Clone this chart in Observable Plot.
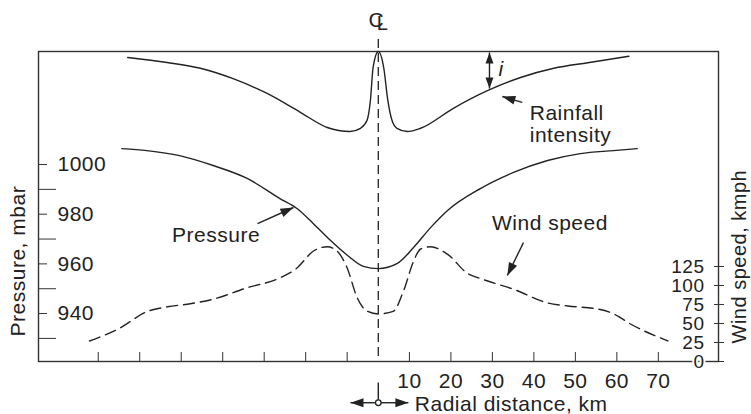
<!DOCTYPE html>
<html><head><meta charset="utf-8">
<script src="https://cdn.jsdelivr.net/npm/d3@7"></script>
<script src="https://cdn.jsdelivr.net/npm/@observablehq/plot@0.6"></script>
<style>body{margin:0;background:#fff}</style>
</head><body><div id="chart"></div>
<script>
// Radial position along the drawing, km (the storm centre line sits at 2.5 on this scale)
const centreKm = 2.5;

// Rainfall intensity (relative, 0–100, measured downward from the top line)
const rainKm = [-57.9, -48.4, -40.4, -32.5, -24.3, -16.3, -9.8, -4.3, -1.8, -0.2, 0.6, 1.25, 2.5, 3.8, 4.8, 5.8, 7.0, 9.5, 12.7, 20.6, 28.8, 36.8, 44.8, 53.0, 62.9];
const rainI  = [7.5, 13.8, 21, 34, 52.5, 76, 95, 100, 96, 86, 61, 20, 0, 20, 61, 86, 96, 100, 96, 71, 49, 32.5, 21, 14, 6];

// Sea-level pressure, mbar
const presKm   = [-59.3, -53.3, -45.4, -37.3, -29.1, -21.2, -17.1, -13.2, -9.0, -4.9, -1.1, 2.5, 7.1, 11.0, 15.1, 19.2, 27.1, 35.1, 43.3, 51.2, 59.2, 64.9];
const presMbar = [1006.4, 1005.6, 1003.6, 999.6, 994.4, 986.3, 982.3, 976.3, 969.4, 963.4, 959.0, 958.1, 960.2, 966.6, 974.6, 981.5, 990.3, 996.8, 1001.6, 1004.4, 1005.6, 1006.4];

// Wind speed, kmph
const windKm   = [-67.1, -60.1, -53.1, -48.3, -42.8, -37.3, -29.1, -21.2, -17.1, -13.2, -9.8, -7.4, -5.0, -2.6, -0.1, 2.5, 6.1, 8.6, 11.0, 12.7, 15.1, 19.2, 24.0, 27.2, 35.1, 43.4, 48.2, 55.4, 59.3, 63.4, 72.3];
const windKmph = [27, 43, 66, 72, 76, 82, 97, 110, 123, 145, 151, 145, 123, 84, 66, 62.5, 66, 93, 132, 148, 151, 141, 116, 109, 95, 77, 73, 69, 62.5, 49, 27];

// Axes
const pressureLabelTicks = [940, 960, 980, 1000];
const pressureMinorTicks = [930, 950, 970, 990];
const windTicks = [0, 25, 50, 75, 100, 125];
const xLabelTicks = [10, 20, 30, 40, 50, 60, 70];
const xLeftTicks = [-5, -15, -25, -35, -45, -55, -65];

// Annotations (in km / mbar units of the drawing)
const labelText = ["Rainfall", "intensity", "Pressure", "Wind speed", "Radial distance, km"];
const labelKm   = [39.0, 39.0, -47.2, 29.9, 11.3];
const labelP    = [1020.8, 1011.9, 971.4, 976.5, 903.3];

const arrowX1 = [-26.6, 37.2, 37.5, 29.3, 2.5, 2.5, 2.5];
const arrowY1 = [976.2, 1025.0, 968.6, 1030.6, 904.1, 904.1, 912.2];
const arrowX2 = [-17.95, 32.4, 33.6, 29.3, -4.2, 9.75, 2.5];
const arrowY2 = [982.7, 1027.4, 955.3, 1045.1, 904.1, 904.1, 905.3];
const arrowHeads = ["end", "end", "end", "both", "end", "end", "none"];

// Mapping of the two other quantities onto the pressure coordinate of the drawing
const P_BOTTOM = 920.7, P_TOP = 1045.5;
const windToP = w => P_BOTTOM + w * 0.306;
const rainToP = i => P_TOP - i * 0.322;

const rain = rainKm.map((k, i) => ({km: k, p: rainToP(rainI[i])}));
const pres = presKm.map((k, i) => ({km: k, p: presMbar[i]}));
const wind = windKm.map((k, i) => ({km: k, p: windToP(windKmph[i])}));
const labels = labelText.map((t, i) => ({text: t, km: labelKm[i], p: labelP[i]}));
const arrows = arrowX1.map((x, i) => ({x1: x, y1: arrowY1[i], x2: arrowX2[i], y2: arrowY2[i], heads: arrowHeads[i]}));

const ink = "#222";
const font = "'Liberation Sans', Arial, sans-serif";

function headRender(index, scales, values, dimensions, context, next) {
  const g = next(index, scales, values, dimensions, context);
  const sel = d3.select(g);
  const {x1: X1, y1: Y1, x2: X2, y2: Y2} = values;
  for (const i of index) {
    const h = arrows[i].heads;
    if (h === "none") continue;
    const L = h === "both" ? 11 : 13, W = h === "both" ? 8 : 9;
    const tips = h === "both" ? [[X2[i], Y2[i], X1[i], Y1[i]], [X1[i], Y1[i], X2[i], Y2[i]]] : [[X2[i], Y2[i], X1[i], Y1[i]]];
    for (const [tx, ty, fx, fy] of tips) {
      const dx = tx - fx, dy = ty - fy, len = Math.hypot(dx, dy);
      const ux = dx / len, uy = dy / len;
      const bx = tx - ux * L, by = ty - uy * L;
      const px = -uy * W / 2, py = ux * W / 2;
      sel.append("path")
        .attr("d", `M${tx},${ty}L${bx + px},${by + py}L${bx - px},${by - py}Z`)
        .attr("fill", ink).attr("stroke", "none");
    }
  }
  return g;
}

const chart = Plot.plot({
  width: 751, height: 414,
  marginTop: 51, marginBottom: 53, marginLeft: 38, marginRight: 33,
  x: {domain: [-79.4, 84.5], label: null},
  y: {domain: [P_BOTTOM, P_TOP], label: null},
  style: {fontFamily: font, fontSize: "21px", color: ink, background: "#fff", letterSpacing: "0.5px"},
  marks: [
    // left pressure axis ticks (inside the frame)
    Plot.axisY({anchor: "left", ticks: pressureLabelTicks, tickSize: 9, dx: 9, tickFormat: () => "", label: null, stroke: "#333"}),
    Plot.axisY({anchor: "left", ticks: pressureMinorTicks, tickSize: 18, dx: 18, tickFormat: () => "", label: null, stroke: "#333"}),
    Plot.text(pressureLabelTicks, {y: d => d, text: d => String(d), frameAnchor: "left", dx: 19, textAnchor: "start", lineAnchor: "middle", fill: ink, fontSize: 21}),
    // right wind axis ticks (crossing the frame)
    Plot.axisY({anchor: "right", ticks: windTicks.map(windToP), tickSize: 10, dx: -5, tickFormat: () => "", label: null, stroke: "#333"}),
    // bottom ticks (inside the frame)
    Plot.axisX({anchor: "bottom", ticks: xLeftTicks.concat(xLabelTicks), tickSize: 9, dy: -9, tickFormat: () => "", label: null, stroke: "#333"}),
    Plot.axisX({anchor: "bottom", ticks: xLabelTicks, tickSize: 0, tickPadding: 12, label: null, fontSize: 21, fill: ink}),
    Plot.frame({stroke: "#333", strokeWidth: 1.4}),
    Plot.text(windTicks, {y: d => windToP(d), text: d => String(d), frameAnchor: "right", dx: -14, textAnchor: "end", lineAnchor: "middle", fill: ink, stroke: "white", strokeWidth: 4, paintOrder: "stroke", fontSize: 19}),
    // centre line
    Plot.ruleX([centreKm], {y1: 1050.3, y2: P_BOTTOM, stroke: ink, strokeWidth: 1.3, strokeDasharray: "9,5"}),
    // curves
    Plot.line(rain, {x: "km", y: "p", curve: "monotone-x", stroke: ink, strokeWidth: 1.4}),
    Plot.line(pres, {x: "km", y: "p", curve: "monotone-x", stroke: ink, strokeWidth: 1.4}),
    Plot.line(wind, {x: "km", y: "p", curve: "monotone-x", stroke: ink, strokeWidth: 1.4, strokeDasharray: "11,6"}),
    // arrows
    Plot.link(arrows, {x1: "x1", y1: "y1", x2: "x2", y2: "y2", stroke: ink, strokeWidth: 1.4, render: headRender}),
    Plot.dot([centreKm], {x: d => d, y: 904.1, r: 2.8, fill: "white", stroke: ink, strokeWidth: 1.3}),
    // labels
    Plot.text(labels, {x: "km", y: "p", text: "text", textAnchor: "start", lineAnchor: "middle", fill: ink, fontSize: 21}),
    Plot.text(["i"], {x: 32.1, y: 1038.5, text: d => d, fontStyle: "italic", fill: ink, fontSize: 21, lineAnchor: "middle"}),
    Plot.text(["C"], {x: centreKm, y: 1058.2, text: d => d, dx: -2, fill: ink, fontSize: 21, lineAnchor: "middle"}),
    Plot.text(["L"], {x: centreKm, y: 1056.6, text: d => d, dx: -1.5, textAnchor: "start", fill: ink, fontSize: 20, lineAnchor: "middle"}),
    Plot.text(["Pressure, mbar"], {y: 961.1, text: d => d, frameAnchor: "left", dx: -20, rotate: -90, textAnchor: "middle", fill: ink, fontSize: 21, lineAnchor: "middle"}),
    Plot.text(["Wind speed, kmph"], {y: 962.9, text: d => d, frameAnchor: "right", dx: 21, rotate: -90, textAnchor: "middle", fill: ink, fontSize: 20, lineAnchor: "middle"})
  ]
});
document.getElementById("chart").appendChild(chart);
</script>
</body></html>
